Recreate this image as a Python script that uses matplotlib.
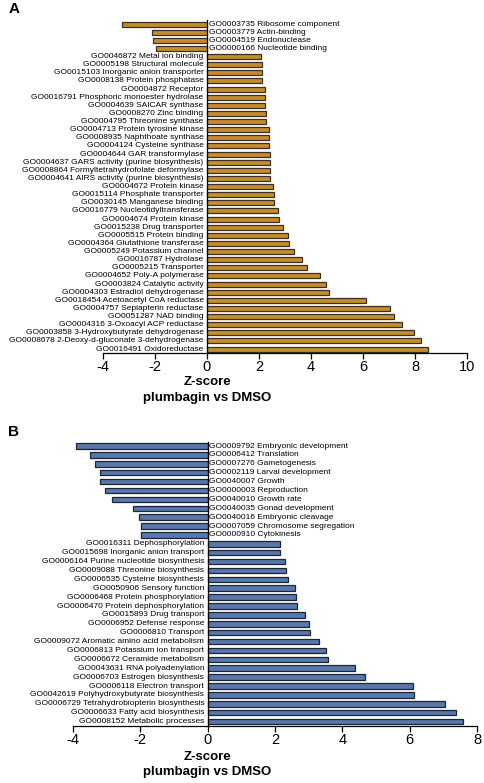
import numpy as np
import matplotlib.pyplot as plt
import matplotlib.transforms as mtransforms

plt.rcParams['font.family'] = ['Liberation Sans', 'DejaVu Sans']

# panel A: GO molecular function terms
terms_a = ["GO0003735 Ribosome component", "GO0003779 Actin-binding",
           "GO0004519 Endonuclease", "GO0000166 Nucleotide binding",
           "GO0046872 Metal ion binding", "GO0005198 Structural molecule",
           "GO0015103 Inorganic anion transporter", "GO0008138 Protein phosphatase",
           "GO0004872 Receptor", "GO0016791 Phosphoric monoester hydrolase",
           "GO0004639 SAICAR synthase", "GO0008270 Zinc binding",
           "GO0004795 Threonine synthase", "GO0004713 Protein tyrosine kinase",
           "GO0008935 Naphthoate synthase", "GO0004124 Cysteine synthase",
           "GO0004644 GAR transformylase", "GO0004637 GARS activity (purine biosynthesis)",
           "GO0008864 Formyltetrahydrofolate deformylase",
           "GO0004641 AIRS activity (purine biosynthesis)", "GO0004672 Protein kinase",
           "GO0015114 Phosphate transporter", "GO0030145 Manganese binding",
           "GO0016779 Nucleotidyltransferase", "GO0004674 Protein kinase",
           "GO0015238 Drug transporter", "GO0005515 Protein binding",
           "GO0004364 Glutathione transferase", "GO0005249 Potassium channel",
           "GO0016787 Hydrolase", "GO0005215 Transporter",
           "GO0004652 Poly-A polymerase", "GO0003824 Catalytic activity",
           "GO0004303 Estradiol dehydrogenase", "GO0018454 Acetoacetyl CoA reductase",
           "GO0004757 Sepiapterin reductase", "GO0051287 NAD binding",
           "GO0004316 3-Oxoacyl ACP reductase", "GO0003858 3-Hydroxybutyrate dehydrogenase",
           "GO0008678 2-Deoxy-d-gluconate 3-dehydrogenase", "GO0016491 Oxidoreductase"]
z_a = [-3.26, -2.13, -2.09, -1.97, 2.09, 2.10, 2.13, 2.13, 2.22, 2.23, 2.25,
       2.28, 2.28, 2.39, 2.40, 2.40, 2.43, 2.43, 2.43, 2.43, 2.54, 2.59, 2.59,
       2.72, 2.77, 2.92, 3.11, 3.16, 3.33, 3.64, 3.85, 4.36, 4.58, 4.68, 6.13,
       7.03, 7.20, 7.51, 7.97, 8.23, 8.52]

# panel B: GO biological process terms
terms_b = ["GO0009792 Embryonic development", "GO0006412 Translation",
           "GO0007276 Gametogenesis", "GO0002119 Larval development",
           "GO0040007 Growth", "GO0000003 Reproduction", "GO0040010 Growth rate",
           "GO0040035 Gonad development", "GO0040016 Embryonic cleavage",
           "GO0007059 Chromosome segregation", "GO0000910 Cytokinesis",
           "GO0016311 Dephosphorylation", "GO0015698 Inorganic anion transport",
           "GO0006164 Purine nucleotide biosynthesis", "GO0009088 Threonine biosynthesis",
           "GO0006535 Cysteine biosynthesis", "GO0050906 Sensory function",
           "GO0006468 Protein phosphorylation", "GO0006470 Protein dephosphorylation",
           "GO0015893 Drug transport", "GO0006952 Defense response",
           "GO0006810 Transport", "GO0009072 Aromatic amino acid metabolism",
           "GO0006813 Potassium ion transport", "GO0006672 Ceramide metabolism",
           "GO0043631 RNA polyadenylation", "GO0006703 Estrogen biosynthesis",
           "GO0006118 Electron transport", "GO0042619 Polyhydroxybutyrate biosynthesis",
           "GO0006729 Tetrahydrobiopterin biosynthesis", "GO0006633 Fatty acid biosynthesis",
           "GO0008152 Metabolic processes"]
z_b = [-3.91, -3.50, -3.36, -3.21, -3.21, -3.05, -2.85, -2.21, -2.03, -1.99,
       -1.99, 2.14, 2.16, 2.29, 2.32, 2.40, 2.58, 2.62, 2.66, 2.90, 3.00, 3.04,
       3.30, 3.51, 3.57, 4.38, 4.67, 6.09, 6.14, 7.04, 7.37, 7.57]

xticks_a = [-4, -2, 0, 2, 4, 6, 8, 10]
xticks_b = [-4, -2, 0, 2, 4, 6, 8]


def panel(ax, terms, z, color, edge, xticks):
    y = np.arange(len(terms))
    ax.barh(y, z, height=0.62, color=color, edgecolor=edge, linewidth=0.9, zorder=2)
    for yi, zi, t in zip(y, z, terms):
        if zi >= 0:
            ax.annotate(t, (0, yi), xytext=(-2.5, 0), textcoords="offset points",
                        ha="right", va="center", fontsize=6, annotation_clip=False)
        else:
            ax.annotate(t, (0, yi), xytext=(1.2, 0), textcoords="offset points",
                        ha="left", va="center", fontsize=6, annotation_clip=False)
    ax.set_ylim(len(terms) - 0.5, -0.5)
    ax.set_xlim(xticks[0], xticks[-1])
    ax.set_xticks(xticks)
    ax.set_xticklabels([str(t) for t in xticks], fontsize=10.5)
    ax.tick_params(axis="x", direction="out", length=4, width=0.9, pad=1)
    ax.set_yticks([])
    ax.spines["left"].set_position(("data", 0))
    ax.spines["top"].set_visible(False)
    ax.spines["right"].set_visible(False)
    ax.spines["left"].set_linewidth(0.9)
    ax.spines["bottom"].set_linewidth(0.9)
    ax.spines["left"].set_zorder(3)
    trans = mtransforms.blended_transform_factory(ax.transData, ax.transAxes)
    return trans


fig = plt.figure(figsize=(4.84, 7.83), dpi=100)

ax_a = fig.add_axes([0.2128, 0.549, 0.752, 0.4255])
ta = panel(ax_a, terms_a, z_a, "#c48d2c", "#3d3020", xticks_a)
fig.text(0.017, 0.988, "A", fontsize=11, fontweight="bold", va="center", ha="left")
fig.text(207 / 484, 1 - 382 / 783, "Z-score", fontsize=9.5, fontweight="bold",
         ha="center", va="center")
fig.text(207 / 484, 1 - 398 / 783, "plumbagin vs DMSO", fontsize=9.5,
         fontweight="bold", ha="center", va="center")

ax_b = fig.add_axes([0.1508, 0.0728, 0.8347, 0.3632])
tb = panel(ax_b, terms_b, z_b, "#5877ab", "#1c2436", xticks_b)
fig.text(0.017, 1 - 432 / 783, "B", fontsize=11, fontweight="bold", va="center", ha="left")
fig.text(207 / 484, 1 - 757 / 783, "Z-score", fontsize=9.5, fontweight="bold",
         ha="center", va="center")
fig.text(207 / 484, 1 - 772 / 783, "plumbagin vs DMSO", fontsize=9.5,
         fontweight="bold", ha="center", va="center")

fig.savefig("out.png", dpi=100)
